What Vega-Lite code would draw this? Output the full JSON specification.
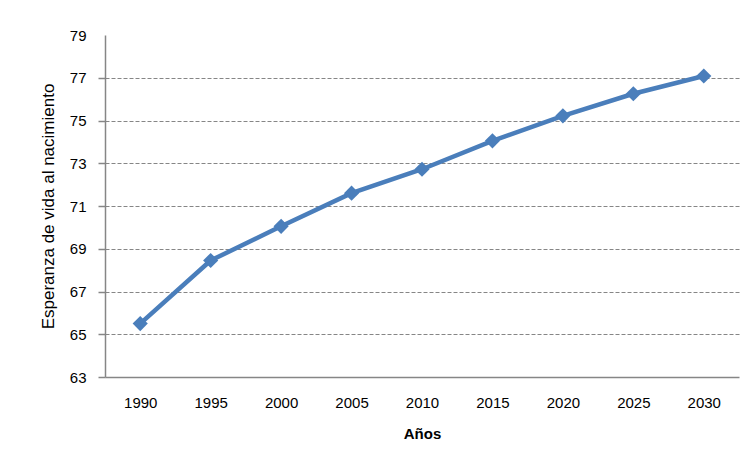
{
  "$schema": "https://vega.github.io/schema/vega-lite/v6.json",
  "width": 634,
  "height": 342,
  "autosize": {"type": "none"},
  "padding": {"left": 105, "top": 35, "right": 14, "bottom": 89},
  "background": "#ffffff",
  "data": {
    "values": [
      {"year": "1990", "value": 65.5},
      {"year": "1995", "value": 68.45},
      {"year": "2000", "value": 70.05},
      {"year": "2005", "value": 71.6},
      {"year": "2010", "value": 72.72},
      {"year": "2015", "value": 74.05},
      {"year": "2020", "value": 75.22},
      {"year": "2025", "value": 76.25},
      {"year": "2030", "value": 77.08}
    ]
  },
  "config": {
    "view": {"stroke": null},
    "axis": {
      "labelFont": "Liberation Sans",
      "titleFont": "Liberation Sans",
      "labelColor": "#000000",
      "titleColor": "#000000",
      "domainColor": "#868686",
      "domainWidth": 1.5,
      "tickColor": "#868686",
      "tickWidth": 1.5
    }
  },
  "encoding": {
    "x": {
      "field": "year",
      "type": "ordinal",
      "scale": {"type": "point", "padding": 0.5},
      "axis": {
        "title": "Años",
        "titleFontWeight": "bold",
        "titleFontSize": 15,
        "titlePadding": 16,
        "labelAngle": 0,
        "labelFontSize": 15,
        "labelPadding": 18,
        "ticks": false,
        "grid": false
      }
    },
    "y": {
      "field": "value",
      "type": "quantitative",
      "scale": {"domain": [63, 79], "nice": false, "zero": false},
      "axis": {
        "title": "Esperanza de vida al nacimiento",
        "titleFontWeight": "normal",
        "titleFontSize": 17,
        "titlePadding": 12,
        "values": [63, 65, 67, 69, 71, 73, 75, 77, 79],
        "labelFontSize": 15,
        "labelPadding": 12,
        "tickSize": 7,
        "grid": true,
        "gridColor": "#868686",
        "gridDash": [4, 2],
        "gridWidth": 1,
        "gridOpacity": {"condition": {"test": "datum.value == 79 || datum.value == 63", "value": 0}, "value": 1},
        "tickOpacity": {"condition": {"test": "datum.value == 79", "value": 0}, "value": 1}
      }
    }
  },
  "layer": [
    {
      "mark": {"type": "line", "color": "#4a7ebb", "strokeWidth": 4.5}
    },
    {
      "mark": {"type": "point", "shape": "diamond", "filled": true, "color": "#4a7ebb", "opacity": 1, "size": 230}
    }
  ]
}
